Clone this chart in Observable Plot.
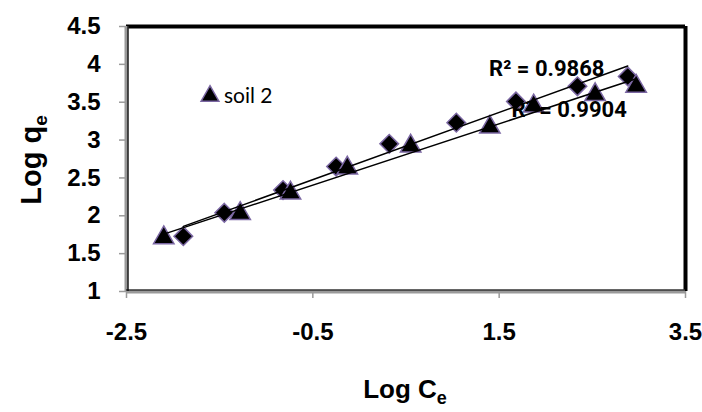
<!DOCTYPE html>
<html>
<head>
<meta charset="utf-8">
<script src="https://cdn.jsdelivr.net/npm/d3@7"></script>
<script src="https://cdn.jsdelivr.net/npm/@observablehq/plot@0.6"></script>
<style>
  html, body { margin: 0; padding: 0; background: #fff; }
  #chart { width: 702px; height: 412px; position: relative; }
</style>
</head>
<body>
<div id="chart"></div>
<script>
// ---- data ----
const xTicks = [-2.5, -0.5, 1.5, 3.5];
const yTicks = [1, 1.5, 2, 2.5, 3, 3.5, 4, 4.5];
const seriesNames = ["soil 1", "soil 2"];
const soil1X = [-1.89, -1.45, -0.82, -0.25, 0.32, 1.04, 1.68, 2.34, 2.88];
const soil1Y = [1.73, 2.04, 2.34, 2.65, 2.95, 3.23, 3.51, 3.71, 3.84];
const soil2X = [-2.10, -1.28, -0.74, -0.13, 0.55, 1.40, 1.87, 2.53, 2.97];
const soil2Y = [1.71, 2.03, 2.30, 2.63, 2.92, 3.17, 3.45, 3.60, 3.71];
const r2Labels = ["R² = 0.9868", "R² = 0.9904"];
const xTitle = ["Log C", "e"];
const yTitle = ["Log q", "e"];
const legendLabel = "soil 2";

const soil1 = soil1X.map((x, i) => ({x, y: soil1Y[i], s: seriesNames[0]}));
const soil2 = soil2X.map((x, i) => ({x, y: soil2Y[i], s: seriesNames[1]}));
const lastPts = [
  {...soil1[soil1.length - 1], label: r2Labels[0]},
  {...soil2[soil2.length - 1], label: r2Labels[1]}
];

const tickFont = "Liberation Sans, Arial, sans-serif";
const noteFont = "Roboto, Lato, sans-serif";
const markerStroke = "#7b67a3";

const plot = Plot.plot({
  width: 702,
  height: 412,
  marginLeft: 126,
  marginRight: 17,
  marginTop: 26,
  marginBottom: 121,
  x: {domain: [-2.5, 3.5]},
  y: {domain: [1, 4.5]},
  style: {background: "white", overflow: "visible"},
  marks: [
    // plot-area borders
    Plot.ruleY([4.5], {stroke: "black", strokeWidth: 4}),
    Plot.ruleX([3.5], {stroke: "black", strokeWidth: 4}),
    Plot.ruleX([-2.5], {stroke: "#9a9a9a", strokeWidth: 4}),
    Plot.ruleY([1], {stroke: "#9a9a9a", strokeWidth: 4}),
    Plot.ruleX([-2.5], {stroke: "black", strokeWidth: 1.2, dx: 1.5}),
    Plot.ruleY([1], {stroke: "black", strokeWidth: 1.2, dy: -1.5}),
    Plot.axisX({ticks: xTicks, tickSize: 7, tickPadding: 24, stroke: "#9a9a9a", strokeWidth: 1.5,
      fontSize: 24, fontWeight: "bold", fontFamily: tickFont, label: null, tickFormat: d => String(d)}),
    Plot.axisY({ticks: yTicks, tickSize: 7, tickPadding: 19, stroke: "#9a9a9a", strokeWidth: 1.5,
      fontSize: 24, fontWeight: "bold", fontFamily: tickFont, label: null, tickFormat: d => String(d)}),
    // markers
    Plot.dot(soil1, {x: "x", y: "y", symbol: "diamond2", r: 8.4, fill: "black", stroke: markerStroke, strokeWidth: 1.5}),
    Plot.dot(soil2, {x: "x", y: "y", symbol: "triangle", r: 7.6, fill: "black", stroke: markerStroke, strokeWidth: 1.5}),
    // trendlines
    Plot.linearRegressionY(soil1, {x: "x", y: "y", ci: 0, stroke: "black", strokeWidth: 1.5}),
    Plot.linearRegressionY(soil2, {x: "x", y: "y", ci: 0, stroke: "black", strokeWidth: 1.5}),
    // R² labels
    Plot.text([lastPts[0]], {x: "x", y: "y", text: "label", dx: -81, dy: -8, fontSize: 22, fontWeight: "bold",
      fontFamily: noteFont, fill: "black"}),
    Plot.text([lastPts[1]], {x: "x", y: "y", text: "label", dx: -67, dy: 24, fontSize: 22, fontWeight: "bold",
      fontFamily: noteFont, fill: "black"})
  ]
});

document.getElementById("chart").appendChild(plot);

// axis titles and legend
const svg = d3.select(plot);
const titleFont = "Liberation Sans, Arial, sans-serif";

const xt = svg.append("text")
  .attr("x", 405).attr("y", 398)
  .attr("text-anchor", "middle")
  .attr("font-family", titleFont).attr("font-weight", "bold").attr("font-size", 26)
  .attr("fill", "black");
xt.append("tspan").text(xTitle[0]);
xt.append("tspan").attr("font-size", 18).attr("dy", 6).text(xTitle[1]);

const yt = svg.append("text")
  .attr("transform", "translate(41,160) rotate(-90)")
  .attr("text-anchor", "middle")
  .attr("font-family", titleFont).attr("font-weight", "bold").attr("font-size", 29)
  .attr("fill", "black");
yt.append("tspan").text(yTitle[0]);
yt.append("tspan").attr("font-size", 19).attr("dy", 6).text(yTitle[1]);

const lg = svg.append("g").attr("transform", "translate(210,96)");
lg.append("path")
  .attr("d", d3.symbol(d3.symbolTriangle, 6.6 * 6.6 * Math.PI)())
  .attr("fill", "black").attr("stroke", markerStroke).attr("stroke-width", 1.5);
lg.append("text")
  .attr("x", 14).attr("y", 7)
  .attr("text-anchor", "start")
  .attr("font-family", "Lato, 'Open Sans', sans-serif").attr("font-size", 21)
  .attr("fill", "black").text(legendLabel);
</script>
</body>
</html>
